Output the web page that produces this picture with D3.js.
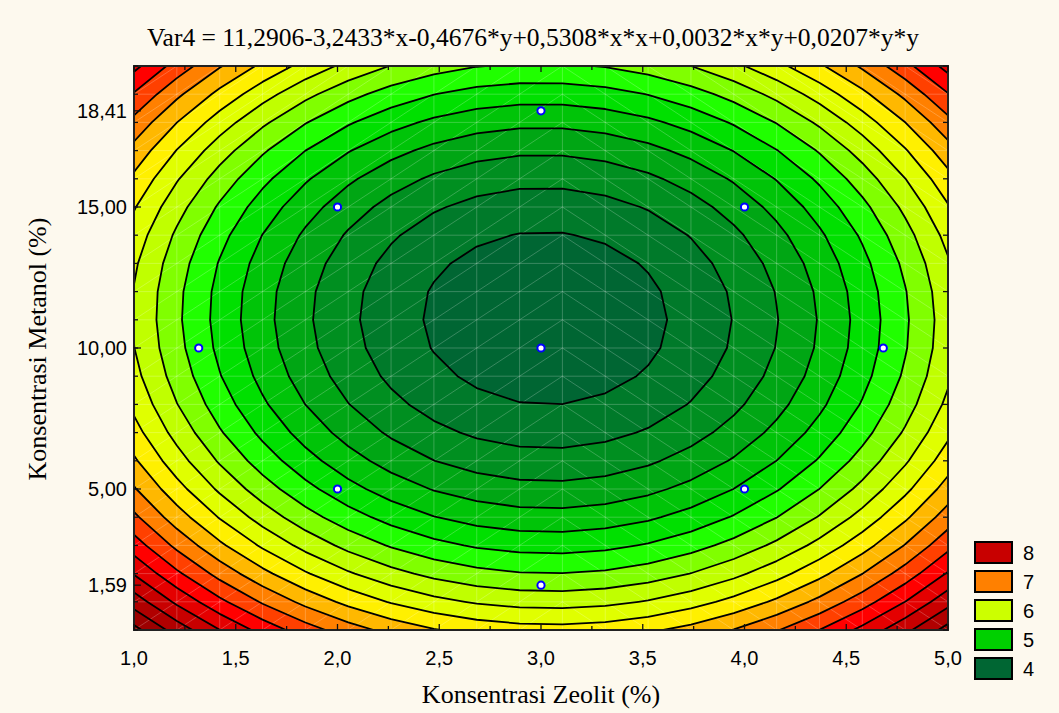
<!DOCTYPE html>
<html>
<head>
<meta charset="utf-8">
<script src="https://cdn.jsdelivr.net/npm/d3@7"></script>
<style>
  html, body { margin: 0; padding: 0; background: #fdf9ee; }
  svg { display: block; }
</style>
</head>
<body>
<div id="chart"></div>
<script>
// Fitted surface: Var4 = b0 + b1*x + b2*y + b3*x*x + b4*x*y + b5*y*y
const coef = [11.2906, -3.2433, -0.4676, 0.5308, 0.0032, 0.0207];
const titleText = "Var4 = 11,2906-3,2433*x-0,4676*y+0,5308*x*x+0,0032*x*y+0,0207*y*y";

// contour levels and the fill of the band lying above each level
const levels = [4.0, 4.25, 4.5, 4.75, 5.0, 5.25, 5.5, 5.75, 6.0, 6.25, 6.5,
  6.75, 7.0, 7.25, 7.5, 7.75, 8.0, 8.25, 8.5, 8.75];
const bandColors = ["#007a2a", "#008f20", "#00a614", "#00c408", "#00e000",
  "#20ff00", "#80ff00", "#c0ff00", "#e0ff00", "#fff000", "#ffb800",
  "#ff8000", "#ff4000", "#ff0000", "#e40000", "#c80000", "#b00000",
  "#9c0000", "#8a0000", "#780000"];
const baseColor = "#006633";

const xTicks = [1.0, 1.5, 2.0, 2.5, 3.0, 3.5, 4.0, 4.5, 5.0];
const yTicks = [1.59, 5.0, 10.0, 15.0, 18.41];

// design points
const pointsX = [3, 2, 2, 4, 4, 1.318, 4.682, 3, 3];
const pointsY = [10, 5, 15, 5, 15, 10, 10, 1.59, 18.41];

const legendValues = [8, 7, 6, 5, 4];
const legendColors = ["#c80000", "#ff8000", "#ccff00", "#00d000", "#006633"];

const W = 1059, H = 713;
const plot = { left: 134, right: 948, top: 66, bottom: 630 };

const svg = d3.select("#chart").append("svg")
  .attr("width", W).attr("height", H)
  .style("background", "#fdf9ee");

const x = d3.scaleLinear().domain([1, 5]).range([plot.left, plot.right]);
const y = d3.scaleLinear().domain([0, 20]).range([plot.bottom, plot.top]);

const f = (a, b) => coef[0] + coef[1] * a + coef[2] * b + coef[3] * a * a +
  coef[4] * a * b + coef[5] * b * b;

// grid: 20 columns over [1,5], 21 rows over [0,20], one extra node each side
const nx = 22, ny = 23, step = 4 / 19;
const values = new Array(nx * ny);
for (let j = 0; j < ny; j++) {
  for (let i = 0; i < nx; i++) {
    values[j * nx + i] = f(1 + (i - 1) * step, j - 1);
  }
}
const contours = d3.contours().size([nx, ny]).thresholds(levels)(values);
const path = d3.geoPath(d3.geoTransform({
  point(px, py) {
    this.stream.point(x(1 + (px - 1.5) * step), y(py - 1.5));
  }
}));

svg.append("clipPath").attr("id", "clip").append("rect")
  .attr("x", plot.left).attr("y", plot.top)
  .attr("width", plot.right - plot.left).attr("height", plot.bottom - plot.top);

const g = svg.append("g").attr("clip-path", "url(#clip)");
g.append("rect")
  .attr("x", plot.left).attr("y", plot.top)
  .attr("width", plot.right - plot.left).attr("height", plot.bottom - plot.top)
  .attr("fill", baseColor);

g.selectAll("path.band").data(contours).enter().append("path")
  .attr("class", "band")
  .attr("d", path)
  .attr("fill", (d, i) => bandColors[i]);

// faint triangulation mesh
const mesh = g.append("g").attr("stroke", "#ffffff").attr("stroke-opacity", 0.22)
  .attr("stroke-width", 1).attr("fill", "none");
for (let i = 0; i < 20; i++) {
  const xv = 1 + i * step;
  mesh.append("line").attr("x1", x(xv)).attr("x2", x(xv))
    .attr("y1", plot.top).attr("y2", plot.bottom);
}
for (let j = 0; j <= 20; j++) {
  mesh.append("line").attr("x1", plot.left).attr("x2", plot.right)
    .attr("y1", y(j)).attr("y2", y(j));
}
for (let i = 0; i < 19; i++) {
  const x0 = 1 + i * step, x1 = x0 + step;
  for (let j = 0; j < 20; j++) {
    const left = (x0 + x1) / 2 < 3;
    mesh.append("line")
      .attr("x1", x(x0)).attr("y1", y(left ? j : j + 1))
      .attr("x2", x(x1)).attr("y2", y(left ? j + 1 : j));
  }
}

// contour lines
g.selectAll("path.line").data(contours).enter().append("path")
  .attr("class", "line")
  .attr("d", path)
  .attr("fill", "none")
  .attr("stroke", "#000")
  .attr("stroke-width", 1.8)
  .attr("stroke-linejoin", "round");

// frame
svg.append("rect")
  .attr("x", plot.left).attr("y", plot.top)
  .attr("width", plot.right - plot.left).attr("height", plot.bottom - plot.top)
  .attr("fill", "none").attr("stroke", "#222").attr("stroke-width", 2);

// inward ticks
const tk = svg.append("g").attr("stroke", "#111").attr("stroke-width", 1.3);
d3.range(1, 5.001, 0.25).forEach(v => {
  const len = Math.abs(v * 2 - Math.round(v * 2)) < 1e-6 ? 6 : 4;
  tk.append("line").attr("x1", x(v)).attr("x2", x(v))
    .attr("y1", plot.bottom).attr("y2", plot.bottom - len);
  tk.append("line").attr("x1", x(v)).attr("x2", x(v))
    .attr("y1", plot.top).attr("y2", plot.top + len);
});
d3.range(0, 20.001, 1).forEach(v => {
  tk.append("line").attr("x1", plot.left).attr("x2", plot.left + 4)
    .attr("y1", y(v)).attr("y2", y(v));
  if (v % 2 === 0) tk.append("line").attr("x1", plot.right).attr("x2", plot.right - 5)
    .attr("y1", y(v)).attr("y2", y(v));
});
yTicks.forEach(v => {
  tk.append("line").attr("x1", plot.left).attr("x2", plot.left + 7)
    .attr("y1", y(v)).attr("y2", y(v));
});

// points
svg.append("g").selectAll("circle").data(pointsX).enter().append("circle")
  .attr("cx", d => x(d))
  .attr("cy", (d, i) => y(pointsY[i]))
  .attr("r", 3.6)
  .attr("fill", "#fff")
  .attr("stroke", "#0000ff")
  .attr("stroke-width", 2);

const fmt = (v, n) => v.toFixed(n).replace(".", ",");
const sans = "'Liberation Sans', Arial, sans-serif";
const serif = "'Liberation Serif', 'Times New Roman', serif";

svg.append("g").selectAll("text").data(xTicks).enter().append("text")
  .attr("x", d => x(d)).attr("y", 665)
  .attr("text-anchor", "middle")
  .attr("font-family", sans).attr("font-size", 20)
  .text(d => fmt(d, 1));

svg.append("g").selectAll("text").data(yTicks).enter().append("text")
  .attr("x", 127).attr("y", d => y(d) + 7)
  .attr("text-anchor", "end")
  .attr("font-family", sans).attr("font-size", 20)
  .text(d => fmt(d, 2));

svg.append("text")
  .attr("x", 533).attr("y", 46)
  .attr("text-anchor", "middle")
  .attr("font-family", serif).attr("font-size", 25.5)
  .text(titleText);

svg.append("text")
  .attr("x", 541).attr("y", 703)
  .attr("text-anchor", "middle")
  .attr("font-family", serif).attr("font-size", 26)
  .text("Konsentrasi Zeolit (%)");

svg.append("text")
  .attr("transform", "translate(46,349) rotate(-90)")
  .attr("text-anchor", "middle")
  .attr("font-family", serif).attr("font-size", 26)
  .text("Konsentrasi Metanol (%)");

// legend
const lg = svg.append("g");
legendValues.forEach((v, i) => {
  const yy = 542 + i * 29;
  lg.append("rect").attr("x", 975).attr("y", yy).attr("width", 37).attr("height", 21)
    .attr("fill", legendColors[i]).attr("stroke", "#000").attr("stroke-width", 2);
  lg.append("text").attr("x", 1023).attr("y", yy + 18)
    .attr("font-family", sans).attr("font-size", 20)
    .text(v);
});
</script>
</body>
</html>
